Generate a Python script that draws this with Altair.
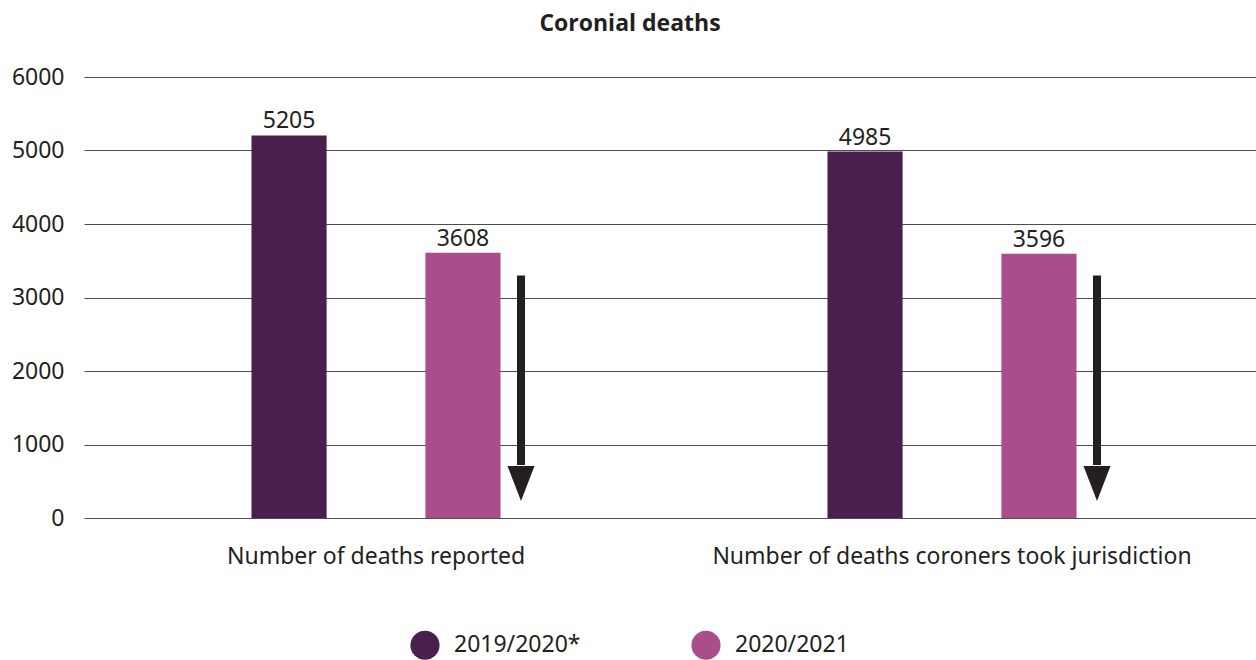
import altair as alt
import pandas as pd

# Coronial deaths: reported vs. jurisdiction taken, two reporting years
categories = ["Number of deaths reported", "Number of deaths coroners took jurisdiction"]
series = ["2019/2020*", "2020/2021"]
values_2019_2020 = [5205, 4985]
values_2020_2021 = [3608, 3596]
colors = ["#4a1e4d", "#a94e8b"]

# Downward "decrease" arrows beside each pair (y extents in data units)
arrow_top = [3300, 3300]
arrow_shaft_end = [720, 720]
arrow_head_mid = [470, 470]

rows = []
for i, cat in enumerate(categories):
    rows.append({"category": cat, "series": series[0], "value": values_2019_2020[i]})
    rows.append({"category": cat, "series": series[1], "value": values_2020_2021[i]})
bars_df = pd.DataFrame(rows)

arrows_df = pd.DataFrame({
    "category": categories,
    "top": arrow_top,
    "shaft_end": arrow_shaft_end,
    "head": arrow_head_mid,
})

FONT = "Noto Sans"
TEXT = "#231f20"

x_enc = alt.X(
    "category:N",
    sort=categories,
    scale=alt.Scale(paddingInner=0, paddingOuter=0.01736, align=0.2),
    axis=alt.Axis(
        title=None, labelAngle=0, labelFontSize=23, labelFont=FONT, labelColor=TEXT,
        ticks=False, domain=False, labelPadding=27, labelLimit=600,
    ),
)
y_scale = alt.Scale(domain=[0, 6000], nice=False)
xoff = alt.XOffset(
    "series:N", sort=series,
    scale=alt.Scale(paddingInner=0.568, paddingOuter=0.94),
)

bars = alt.Chart(bars_df).mark_bar().encode(
    x=x_enc,
    xOffset=xoff,
    y=alt.Y(
        "value:Q", scale=y_scale,
        axis=alt.Axis(
            title=None, values=[0, 1000, 2000, 3000, 4000, 5000, 6000], format="d",
            labelFontSize=23, labelFont=FONT, labelColor=TEXT,
            ticks=False, domain=False, labelPadding=20,
            gridColor="#4d4d4d", gridWidth=1,
        ),
    ),
    color=alt.Color(
        "series:N", sort=series,
        scale=alt.Scale(domain=series, range=colors),
        legend=alt.Legend(
            title=None, orient="none", direction="horizontal",
            legendX=326, legendY=553,
            symbolType="circle", symbolSize=850, symbolStrokeWidth=0,
            labelFontSize=23, labelFont=FONT, labelColor=TEXT,
            labelOffset=14, columnPadding=110,
        ),
    ),
)

labels = alt.Chart(bars_df).mark_text(
    baseline="bottom", dy=-2, fontSize=23, font=FONT, color=TEXT,
).encode(
    x=alt.X("category:N", sort=categories),
    xOffset=alt.XOffset("series:N", sort=series),
    y=alt.Y("value:Q"),
    text=alt.Text("value:Q", format="d"),
)

shaft = alt.Chart(arrows_df).mark_rule(
    strokeWidth=8, color=TEXT, xOffset=145,
).encode(
    x=alt.X("category:N", sort=categories),
    y=alt.Y("top:Q"),
    y2="shaft_end:Q",
)

head = alt.Chart(arrows_df).mark_point(
    shape="M -1 -1.3 L 1 -1.3 L 0 1.3 Z", size=729, filled=True, opacity=1,
    color=TEXT, strokeWidth=0, xOffset=145,
).encode(
    x=alt.X("category:N", sort=categories),
    y=alt.Y("head:Q"),
)

chart = alt.layer(bars, labels, shaft, head).properties(
    width=1172,
    height=441,
    title=alt.TitleParams(
        "Coronial deaths", font="Open Sans", fontSize=23, fontWeight="bold",
        color=TEXT, anchor="middle", dx=-40, offset=30,
    ),
    autosize="none",
    padding={"left": 84, "top": 77, "right": 0, "bottom": 142},
).configure_view(stroke=None).configure_axis(gridOpacity=1)

chart.save("out.html", embed_options={"renderer": "svg", "actions": False})
